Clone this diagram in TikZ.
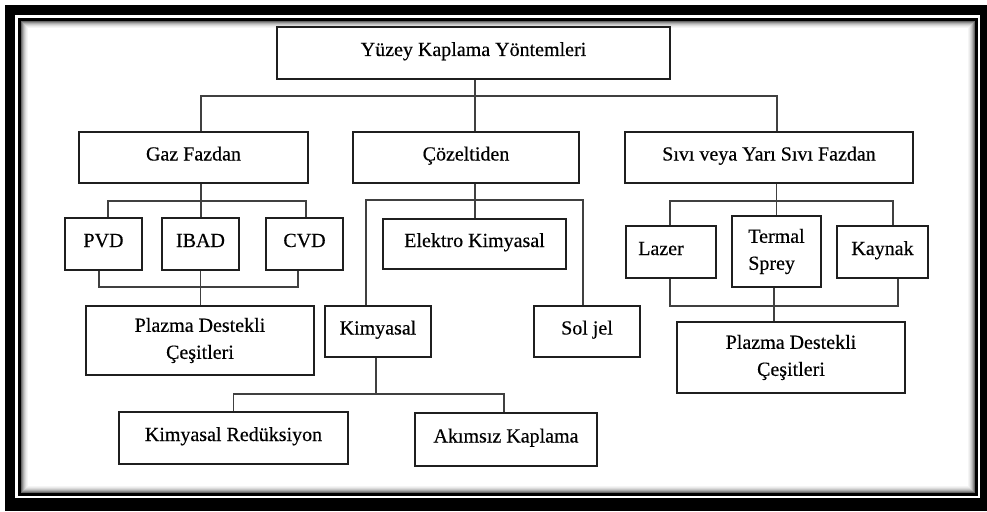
\documentclass[tikz,border=0pt]{standalone}
\usepackage{fontspec}
\setmainfont{Liberation Serif}[FakeBold=0.4]
\usetikzlibrary{calc}
\begin{document}
\begin{tikzpicture}[x=1pt,y=-1pt,
  box/.style={draw=black!88,line width=1.7pt,inner sep=0pt,align=center,font=\fontsize{20}{27}\selectfont},
  one/.style={text height=13pt,text depth=7pt},
  conn/.style={draw=black!75,line width=1.3pt}]
\useasboundingbox (0,0) rectangle (987,511);
% frame
\fill[black] (5,5) rectangle (987,511);
\fill[white] (15,15) rectangle (980,498);
\draw[line width=3pt] (19.5,19.5) rectangle (976,494.5);
\foreach \i/\g in {0/60,1/45,2/32,3/22,4/14,5/8,6/4}{
  \draw[black!\g, line width=1pt] (21.5+\i,21.5+\i) rectangle (974-\i,492.5-\i);
}
% nodes
\node[box,one,minimum width=393pt,minimum height=52pt] (root) at (473.5,53) {Yüzey Kaplama Yöntemleri};
\node[box,one,minimum width=229pt,minimum height=51pt] (gaz) at (193.5,157.5) {Gaz Fazdan};
\node[box,one,minimum width=226pt,minimum height=51pt] (coz) at (466,157.5) {Çözeltiden};
\node[box,one,minimum width=288pt,minimum height=51pt] (sivi) at (769,157.5) {Sıvı veya Yarı Sıvı Fazdan};
\node[box,one,minimum width=77pt,minimum height=52pt] (pvd) at (103.5,244) {PVD};
\node[box,one,minimum width=77pt,minimum height=52pt] (ibad) at (200.5,244) {IBAD};
\node[box,one,minimum width=77pt,minimum height=52pt] (cvd) at (304.5,244) {CVD};
\node[box,minimum width=228pt,minimum height=69pt] (pl1) at (200,340.5) {Plazma Destekli\\Çeşitleri};
\node[box,one,minimum width=183pt,minimum height=50pt] (elek) at (474.5,244) {Elektro Kimyasal};
\node[box,one,minimum width=106pt,minimum height=51pt] (kim) at (378,331.5) {Kimyasal};
\node[box,one,minimum width=106pt,minimum height=51pt] (sol) at (587,331.5) {Sol jel};
\node[box,one,minimum width=229pt,minimum height=52pt] (kr) at (233.5,438) {Kimyasal Redüksiyon};
\node[box,one,minimum width=182pt,minimum height=53pt] (ak) at (506,439.5) {Akımsız Kaplama};
\node[box,one,minimum width=90pt,minimum height=52pt] (lz) at (671,252) {\hbox{Lazer\kern20pt}};
\node[box,minimum width=89pt,minimum height=71pt,align=left] (ts) at (776.5,251.5) {Termal\\Sprey};
\node[box,one,minimum width=91pt,minimum height=52pt] (ky) at (882.5,252) {Kaynak};
\node[box,minimum width=228pt,minimum height=71pt] (pl2) at (791,357.5) {Plazma Destekli\\Çeşitleri};
% level 1
\coordinate (b1) at (0,96);
\coordinate (gt) at ([xshift=7.5pt]gaz.north);
\coordinate (ct) at ([xshift=9pt]coz.north);
\coordinate (st) at ([xshift=8pt]sivi.north);
\draw[conn] (gt) -- (gt |- b1) -- (st |- b1) -- (st);
\draw[conn] (ct |- root.south) -- (ct);
% gaz children
\coordinate (b2) at (0,201);
\coordinate (gb) at ([xshift=7.5pt]gaz.south);
\coordinate (p1) at ([xshift=4.5pt]pvd.north);
\coordinate (p3) at ([xshift=1.5pt]cvd.north);
\draw[conn] (p1) -- (p1 |- b2) -- (p3 |- b2) -- (p3);
\draw[conn] (gb) -- (gb |- ibad.north);
\coordinate (b3) at (0,287);
\coordinate (p1b) at ([xshift=-4.5pt]pvd.south);
\coordinate (p3b) at ([xshift=-6.5pt]cvd.south);
\draw[conn] (p1b) -- (p1b |- b3) -- (p3b |- b3) -- (p3b);
\draw[conn] (ibad.south) -- (ibad.south |- pl1.north);
% cozeltiden children
\coordinate (b4) at (0,200);
\coordinate (cb) at ([xshift=9pt]coz.south);
\coordinate (k1) at ([xshift=-12pt]kim.north);
\coordinate (s1) at ([xshift=-4pt]sol.north);
\draw[conn] (k1) -- (k1 |- b4) -- (s1 |- b4) -- (s1);
\draw[conn] (cb) -- (cb |- elek.north);
% kimyasal children
\coordinate (b5) at (0,394);
\coordinate (kb) at ([xshift=-2pt]kim.south);
\coordinate (a1) at ([xshift=-2pt]ak.north);
\draw[conn] (kr.north) -- (kr.north |- b5) -- (a1 |- b5) -- (a1);
\draw[conn] (kb) -- (kb |- b5);
% sivi children
\coordinate (b6) at (0,201);
\coordinate (l1) at ([xshift=-1pt]lz.north);
\coordinate (y1) at ([xshift=10.5pt]ky.north);
\draw[conn] (l1) -- (l1 |- b6) -- (y1 |- b6) -- (y1);
\draw[conn] (ts.north |- sivi.south) -- (ts.north);
\coordinate (b7) at (0,306);
\coordinate (l2) at ([xshift=-1pt]lz.south);
\coordinate (y2) at ([xshift=15.5pt]ky.south);
\coordinate (t2) at ([xshift=-2.5pt]ts.south);
\draw[conn] (l2) -- (l2 |- b7) -- (y2 |- b7) -- (y2);
\draw[conn] (t2) -- (t2 |- pl2.north);
\end{tikzpicture}
\end{document}
